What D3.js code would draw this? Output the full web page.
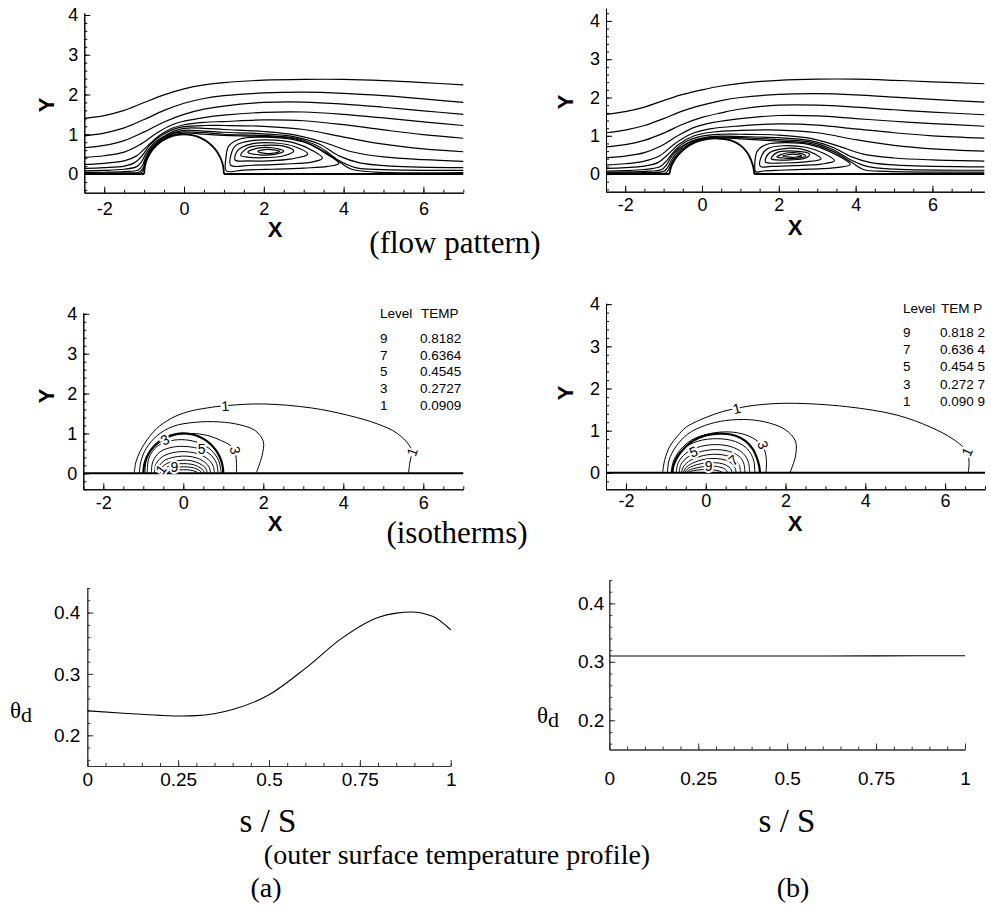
<!DOCTYPE html>
<html>
<head>
<meta charset="utf-8">
<script src="https://cdn.jsdelivr.net/npm/d3@7"></script>
<style>
body { margin: 0; background: #fff; }
</style>
</head>
<body>
<div id="fig"></div>
<script>
// ---------- data (data units) ----------

// body outlines
const bodyA = [[-1,0],[-0.98,0.2],[-0.92,0.39],[-0.8,0.6],[-0.6,0.8],[-0.4,0.917],[-0.2,0.98],[0,1],[0.2,0.98],[0.4,0.917],[0.6,0.8],[0.8,0.6],[0.92,0.39],[0.98,0.2],[1,0]];
const bodyB = [[-0.85,0],[-0.8,0.2],[-0.68,0.42],[-0.5,0.62],[-0.3,0.77],[0,0.89],[0.4,0.93],[0.75,0.88],[1.0,0.75],[1.18,0.56],[1.28,0.36],[1.34,0.16],[1.36,0]];

// streamlines, case (a)
const streamsA = [
  [[-2.5,1.40],[-2,1.47],[-1.5,1.60],[-1,1.80],[-0.5,1.99],[0,2.14],[0.5,2.24],[1,2.30],[2,2.36],[3,2.38],[4,2.38],[5,2.35],[6,2.30],[7,2.24]],
  [[-2.5,0.96],[-2,1.03],[-1.5,1.16],[-1,1.37],[-0.5,1.60],[0,1.78],[0.5,1.90],[1,1.97],[2,2.04],[3,2.06],[4,2.03],[5,1.97],[6,1.89],[7,1.80]],
  [[-2.5,0.66],[-2,0.72],[-1.5,0.84],[-1,1.06],[-0.5,1.31],[0,1.50],[0.5,1.63],[1,1.71],[2,1.80],[3,1.81],[4,1.76],[5,1.68],[6,1.59],[7,1.50]],
  [[-2.5,0.42],[-2,0.46],[-1.5,0.55],[-1.1,0.74],[-0.7,1.02],[-0.3,1.24],[0,1.33],[0.5,1.42],[1,1.48],[2,1.55],[3,1.56],[4,1.50],[5,1.41],[6,1.31],[7,1.22]],
  [[-2.5,0.24],[-2,0.27],[-1.5,0.33],[-1.2,0.45],[-0.9,0.72],[-0.6,0.98],[-0.3,1.15],[0,1.24],[0.5,1.3],[1,1.32],[2,1.36],[3,1.34],[4,1.24],[5,1.11],[6,0.99],[7,0.90]],
  [[-2.5,0.14],[-2,0.16],[-1.5,0.2],[-1.25,0.28],[-1.05,0.46],[-0.85,0.74],[-0.55,0.98],[-0.25,1.13],[0,1.19],[0.5,1.22],[1,1.22],[2,1.2],[3,1.12],[4,0.93],[5,0.75],[6,0.63],[7,0.56]],
  [[-2.5,0.08],[-2,0.09],[-1.5,0.12],[-1.2,0.18],[-1.07,0.3],[-0.95,0.52],[-0.75,0.78],[-0.5,0.95],[-0.25,1.08],[0,1.15],[0.5,1.15],[1,1.12],[2,1.07],[2.8,0.98],[3.5,0.8],[4.2,0.56],[5,0.43],[6,0.36],[7,0.32]],
  [[-2.5,0.04],[-2,0.045],[-1.5,0.06],[-1.15,0.1],[-1.04,0.22],[-0.96,0.42],[-0.82,0.66],[-0.55,0.9],[-0.25,1.04],[0,1.1],[0.5,1.08],[1,1.05],[2,1.01],[2.8,0.93],[3.4,0.75],[3.9,0.45],[4.4,0.28],[5.2,0.2],[7,0.16]],
  [[-2.5,0.02],[-1.5,0.028],[-1.12,0.05],[-1.02,0.16],[-0.97,0.33],[-0.86,0.57],[-0.6,0.85],[-0.3,1.01],[0,1.06],[0.5,1.04],[1,1.0],[2,0.97],[2.8,0.9],[3.4,0.68],[3.85,0.36],[4.3,0.16],[5,0.11],[7,0.09]],
  [[-2.5,0.01],[-1.5,0.013],[-1.08,0.025],[-1.01,0.12],[-0.98,0.26],[-0.9,0.46],[-0.7,0.74],[-0.4,0.94],[0,1.03],[0.5,1.0],[1,0.97],[2,0.945],[2.8,0.88],[3.4,0.63],[3.9,0.3],[4.2,0.12],[4.8,0.05],[7,0.035]]
];
// recirculation loops, case (a)
const loopsA = [
  [[1.06,0.08],[1.05,0.4],[1.12,0.7],[1.4,0.88],[2,0.93],[2.6,0.89],[3.1,0.77],[3.5,0.55],[3.88,0.27],[3.6,0.19],[3,0.15],[2.2,0.12],[1.5,0.1]],
  [[1.17,0.22],[1.18,0.5],[1.3,0.72],[1.7,0.84],[2.3,0.85],[2.8,0.77],[3.2,0.6],[3.47,0.4],[3.2,0.3],[2.5,0.25],[1.7,0.22]],
  [[1.28,0.35],[1.35,0.6],[1.7,0.76],[2.3,0.78],[2.8,0.68],[3.1,0.5],[2.7,0.38],[2.1,0.33],[1.6,0.33]],
  [[1.42,0.47],[1.6,0.66],[2.0,0.72],[2.5,0.7],[2.75,0.58],[2.5,0.46],[2.0,0.41],[1.65,0.42]],
  [[1.6,0.55],[1.85,0.65],[2.2,0.66],[2.5,0.58],[2.3,0.5],[1.9,0.48]],
  [[1.85,0.57],[2.1,0.62],[2.4,0.57],[2.2,0.52],[1.95,0.53]]
];

// streamlines, case (b)
const streamsB = [
  [[-2.5,1.56],[-2,1.63],[-1.5,1.75],[-1,1.92],[-0.5,2.08],[0,2.2],[0.5,2.3],[1,2.37],[2,2.45],[3,2.48],[4,2.48],[5,2.45],[6,2.41],[7.35,2.36]],
  [[-2.5,1.08],[-2,1.15],[-1.5,1.27],[-1,1.45],[-0.5,1.65],[0,1.8],[0.5,1.92],[1,2.0],[2,2.08],[3,2.1],[4,2.07],[5,2.01],[6,1.95],[7.35,1.88]],
  [[-2.5,0.71],[-2,0.77],[-1.5,0.88],[-1,1.07],[-0.5,1.3],[0,1.48],[0.5,1.6],[1,1.7],[2,1.8],[3,1.8],[4,1.75],[5,1.68],[6,1.62],[7.35,1.55]],
  [[-2.5,0.43],[-2,0.47],[-1.5,0.56],[-1.1,0.72],[-0.6,1.02],[-0.2,1.22],[0.3,1.35],[1,1.45],[2,1.53],[3,1.52],[4,1.45],[5,1.38],[6,1.32],[7.35,1.25]],
  [[-2.5,0.24],[-2,0.27],[-1.5,0.34],[-1.1,0.48],[-0.7,0.8],[-0.3,1.04],[0.2,1.18],[1,1.26],[2,1.31],[3,1.28],[4,1.18],[5,1.08],[6,1.0],[7.35,0.94]],
  [[-2.5,0.15],[-2,0.17],[-1.5,0.21],[-1.15,0.3],[-0.9,0.5],[-0.6,0.78],[-0.2,1.0],[0.3,1.1],[1,1.14],[2,1.15],[3,1.08],[4,0.9],[5,0.75],[6,0.66],[7.35,0.6]],
  [[-2.5,0.08],[-2,0.09],[-1.5,0.12],[-1.1,0.19],[-0.92,0.35],[-0.72,0.6],[-0.45,0.83],[0,0.99],[0.5,1.04],[1,1.04],[2,1.02],[2.8,0.94],[3.5,0.75],[4.2,0.52],[5,0.42],[6,0.37],[7.35,0.34]],
  [[-2.5,0.05],[-1.5,0.07],[-1.05,0.12],[-0.92,0.25],[-0.8,0.45],[-0.6,0.67],[-0.3,0.85],[0.1,0.96],[0.5,0.99],[1,0.98],[2,0.95],[2.8,0.88],[3.4,0.7],[3.9,0.45],[4.4,0.3],[5.2,0.23],[7.35,0.19]],
  [[-2.5,0.03],[-1.5,0.04],[-1.0,0.07],[-0.89,0.18],[-0.8,0.36],[-0.62,0.6],[-0.35,0.81],[0.1,0.94],[0.5,0.965],[1,0.95],[2,0.9],[2.8,0.84],[3.4,0.65],[3.85,0.38],[4.3,0.2],[5,0.13],[7.35,0.1]],
  [[-2.5,0.01],[-1.5,0.015],[-0.95,0.03],[-0.87,0.12],[-0.79,0.3],[-0.64,0.52],[-0.4,0.74],[0,0.91],[0.4,0.95],[1,0.92],[2,0.86],[2.8,0.8],[3.4,0.6],[3.9,0.3],[4.2,0.12],[4.8,0.07],[7.35,0.05]]
];
const loopsB = [
  [[1.4,0.06],[1.38,0.35],[1.45,0.62],[1.7,0.78],[2.2,0.82],[2.8,0.77],[3.3,0.6],[3.86,0.25],[3.5,0.17],[2.8,0.13],[2,0.1],[1.6,0.08]],
  [[1.52,0.2],[1.54,0.45],[1.7,0.66],[2.1,0.74],[2.7,0.7],[3.15,0.55],[3.45,0.35],[3.1,0.26],[2.4,0.22],[1.8,0.2]],
  [[1.65,0.32],[1.75,0.55],[2.1,0.66],[2.6,0.65],[2.95,0.52],[3.1,0.4],[2.7,0.32],[2.1,0.29]],
  [[1.8,0.4],[1.95,0.56],[2.4,0.6],[2.8,0.52],[2.7,0.42],[2.3,0.37],[1.95,0.37]],
  [[1.95,0.45],[2.2,0.55],[2.55,0.54],[2.7,0.47],[2.45,0.41],[2.1,0.42]],
  [[2.1,0.47],[2.35,0.52],[2.6,0.48],[2.4,0.44],[2.2,0.45]]
];

// isotherms, case (a)
const isoA = [
  [[-1.23,0],[-1.18,0.3],[-1.08,0.55],[-0.9,0.85],[-0.67,1.12],[-0.3,1.38],[0.1,1.54],[0.6,1.64],[1.1,1.7],[2.0,1.74],[3.2,1.64],[4.1,1.46],[4.85,1.24],[5.35,1.0],[5.7,0.6],[5.66,0.25],[5.63,0]],
  [[-1.1,0],[-1.06,0.3],[-0.93,0.62],[-0.65,0.95],[-0.25,1.18],[0.3,1.28],[0.9,1.29],[1.4,1.22],[1.8,1.07],[2.0,0.8],[1.97,0.45],[1.82,0]],
  [[-0.96,0],[-0.93,0.3],[-0.8,0.58],[-0.55,0.8],[-0.2,0.96],[0.2,1.0],[0.6,0.95],[0.95,0.82],[1.2,0.68],[1.3,0.5],[1.33,0.25],[1.33,0]],
  [[-0.9,0],[-0.86,0.38],[-0.65,0.68],[-0.3,0.82],[0.05,0.84],[0.4,0.76],[0.7,0.58],[0.88,0.33],[0.95,0]],
  [[-0.8,0],[-0.76,0.3],[-0.58,0.54],[-0.25,0.66],[0.1,0.67],[0.45,0.6],[0.7,0.45],[0.83,0.25],[0.87,0]],
  [[-0.72,0],[-0.68,0.24],[-0.5,0.43],[-0.2,0.53],[0.1,0.54],[0.4,0.48],[0.62,0.35],[0.74,0.2],[0.78,0]],
  [[-0.65,0],[-0.6,0.19],[-0.44,0.34],[-0.15,0.42],[0.1,0.43],[0.35,0.38],[0.55,0.27],[0.65,0.15],[0.68,0]],
  [[-0.58,0],[-0.53,0.15],[-0.38,0.26],[-0.12,0.32],[0.1,0.33],[0.3,0.29],[0.48,0.2],[0.57,0.11],[0.6,0]],
  [[-0.52,0],[-0.47,0.11],[-0.33,0.19],[-0.1,0.24],[0.1,0.24],[0.28,0.21],[0.42,0.14],[0.5,0.07],[0.52,0]],
  [[-0.47,0],[-0.42,0.07],[-0.28,0.13],[-0.08,0.16],[0.1,0.16],[0.25,0.14],[0.37,0.09],[0.44,0.04],[0.45,0]],
  [[-0.42,0],[-0.36,0.04],[-0.22,0.08],[0,0.09],[0.18,0.08],[0.32,0.04],[0.38,0]]
];
const isoLabelsA = [
  {t:"1", x:1.05, y:1.69, r:-4}, {t:"1", x:5.72, y:0.54, r:-70},
  {t:"3", x:-0.46, y:0.84, r:-28}, {t:"3", x:1.3, y:0.58, r:78},
  {t:"5", x:0.46, y:0.62, r:0}, {t:"9", x:-0.22, y:0.15, r:0}, {t:"1", x:-0.56, y:0.1, r:-55}
];

// isotherms, case (b)
const isoB = [
  [[-1.08,0],[-1.03,0.3],[-0.9,0.63],[-0.7,0.88],[-0.48,1.09],[0.28,1.41],[0.78,1.53],[1.3,1.61],[2.11,1.65],[3.53,1.57],[4.79,1.37],[5.62,1.09],[6.2,0.8],[6.55,0.5],[6.6,0.25],[6.58,0]],
  [[-0.96,0],[-0.92,0.3],[-0.75,0.62],[-0.45,0.92],[0,1.13],[0.5,1.24],[1.1,1.26],[1.6,1.18],[2.0,1.02],[2.25,0.75],[2.25,0.4],[2.11,0]],
  [[-0.86,0],[-0.82,0.25],[-0.66,0.52],[-0.35,0.78],[0.1,0.93],[0.6,0.97],[1.0,0.9],[1.3,0.75],[1.47,0.55],[1.52,0.3],[1.51,0]],
  [[-0.82,0],[-0.77,0.3],[-0.58,0.56],[-0.2,0.75],[0.3,0.81],[0.75,0.74],[1.05,0.56],[1.2,0.3],[1.23,0]],
  [[-0.74,0],[-0.69,0.24],[-0.5,0.46],[-0.15,0.62],[0.3,0.67],[0.7,0.6],[0.95,0.45],[1.07,0.25],[1.1,0]],
  [[-0.67,0],[-0.62,0.2],[-0.44,0.38],[-0.1,0.51],[0.3,0.55],[0.65,0.49],[0.87,0.36],[0.96,0.2],[0.98,0]],
  [[-0.61,0],[-0.55,0.16],[-0.38,0.3],[-0.06,0.41],[0.28,0.44],[0.58,0.39],[0.77,0.28],[0.85,0.15],[0.87,0]],
  [[-0.56,0],[-0.5,0.12],[-0.33,0.23],[-0.04,0.32],[0.26,0.34],[0.5,0.3],[0.67,0.21],[0.74,0.11],[0.76,0]],
  [[-0.52,0],[-0.46,0.09],[-0.3,0.17],[-0.03,0.23],[0.24,0.24],[0.44,0.21],[0.58,0.14],[0.64,0.07],[0.65,0]],
  [[-0.48,0],[-0.42,0.06],[-0.27,0.11],[-0.02,0.15],[0.2,0.16],[0.38,0.13],[0.5,0.08],[0.55,0]],
  [[-0.45,0],[-0.38,0.035],[-0.22,0.065],[0,0.08],[0.2,0.07],[0.35,0.04],[0.43,0]]
];
const isoLabelsB = [
  {t:"1", x:0.78, y:1.53, r:-14}, {t:"1", x:6.55, y:0.5, r:-65},
  {t:"3", x:1.44, y:0.66, r:70}, {t:"5", x:-0.31, y:0.5, r:-20},
  {t:"7", x:0.69, y:0.3, r:-40}, {t:"9", x:0.07, y:0.17, r:0}
];

// legend of the isotherm plots
const legendLevels = ["9", "7", "5", "3", "1"];
const legendTempA = ["0.8182", "0.6364", "0.4545", "0.2727", "0.0909"];
const legendTempB = ["0.818 2", "0.636 4", "0.454 5", "0.272 7", "0.090 9"];

// outer surface temperature
const sA = [0, 0.1, 0.2, 0.26, 0.3, 0.4, 0.5, 0.6, 0.7, 0.8, 0.85, 0.89, 0.95, 1];
const thetaA = [0.240, 0.236, 0.2325, 0.2315, 0.232, 0.242, 0.266, 0.309, 0.358, 0.392, 0.399, 0.401, 0.394, 0.372];
const sB = [0, 0.25, 0.5, 0.75, 1];
const thetaB = [0.31, 0.31, 0.31, 0.3102, 0.3105];

const sTicks = [0, 0.25, 0.5, 0.75, 1];
const sTickLabels = ["0", "0.25", "0.5", "0.75", "1"];
const thetaTicks = [0.2, 0.3, 0.4];

// ---------- drawing ----------
const W = 991, H = 911;
const sans = "'Liberation Sans', Arial, sans-serif";
const serif = "'Liberation Serif', 'Times New Roman', serif";

const svg = d3.select("#fig").append("svg")
	.attr("width", W)
	.attr("height", H)
	.attr("viewBox", `0 0 ${W} ${H}`);

function minorTicks(domain, step) {
	const lo = Math.ceil(Math.min(...domain) / step - 1e-6);
	const hi = Math.floor(Math.max(...domain) / step + 1e-6);
	return d3.range(lo, hi + 1).map((i) => +(i * step).toFixed(4));
}

function styleAxis(g, size, color) {
	g.selectAll("path, line").attr("stroke", color).attr("stroke-width", 1);
	g.selectAll("text")
		.attr("fill", "#000")
		.style("font-family", sans)
		.style("font-size", size + "px");
}

function drawAxes(g, x, y, o) {
	const yBase = y.range()[0];
	const xLeft = x.range()[0];
	const fmt = o.xFmt || ((d) => String(d));
	// x axis
	g.append("g")
		.attr("transform", `translate(0,${yBase})`)
		.call(d3.axisBottom(x).tickValues(minorTicks(x.domain(), o.xMinor)).tickSize(-3).tickSizeOuter(0).tickFormat(""))
		.call(styleAxis, o.font, o.color);
	g.append("g")
		.attr("transform", `translate(0,${yBase})`)
		.call(d3.axisBottom(x).tickValues(o.xMajor).tickSize(-6).tickSizeOuter(0).tickPadding(o.xPad).tickFormat(fmt))
		.call(styleAxis, o.font, o.color);
	// y axis
	g.append("g")
		.attr("transform", `translate(${xLeft},0)`)
		.call(d3.axisLeft(y).tickValues(minorTicks(y.domain(), o.yMinor)).tickSize(-3).tickSizeOuter(0).tickFormat(""))
		.call(styleAxis, o.font, o.color);
	g.append("g")
		.attr("transform", `translate(${xLeft},0)`)
		.call(d3.axisLeft(y).tickValues(o.yMajor).tickSize(-6).tickSizeOuter(0).tickPadding(o.yPad).tickFormat((d) => String(d)))
		.call(styleAxis, o.font, o.color);
}

const smooth = d3.curveCatmullRom.alpha(0.5);
const smoothClosed = d3.curveCatmullRomClosed.alpha(0.5);

function fieldPanel(o) {
	const x = d3.scaleLinear().domain(o.xd).range(o.xr);
	const y = d3.scaleLinear().domain(o.yd).range(o.yr);
	const g = svg.append("g");
	const line = d3.line().x((d) => x(d[0])).y((d) => y(d[1])).curve(smooth);
	const loop = d3.line().x((d) => x(d[0])).y((d) => y(d[1])).curve(smoothClosed);

	drawAxes(g, x, y, {
		xMajor: [-2, 0, 2, 4, 6], xMinor: 0.5,
		yMajor: [0, 1, 2, 3, 4], yMinor: 0.2,
		xPad: o.xPad, yPad: 6, font: 18, color: "#000"
	});

	// open lines (streamlines or isotherms)
	g.selectAll(".ln").data(o.lines).enter().append("path")
		.attr("d", line).attr("fill", "none")
		.attr("stroke", "#000").attr("stroke-width", o.lw);
	// closed loops
	g.selectAll(".lp").data(o.loops || []).enter().append("path")
		.attr("d", loop).attr("fill", "none")
		.attr("stroke", "#000").attr("stroke-width", o.lw);

	// wall and body
	const xEnd = o.xd[1];
	if (o.fullWall) {
		g.append("line")
			.attr("x1", x(o.xd[0])).attr("x2", x(xEnd))
			.attr("y1", y(0)).attr("y2", y(0))
			.attr("stroke", "#000").attr("stroke-width", 2);
	} else {
		const b = o.body;
		[[o.xd[0], b[0][0]], [b[b.length - 1][0], xEnd]].forEach((seg) => {
			g.append("line")
				.attr("x1", x(seg[0])).attr("x2", x(seg[1]))
				.attr("y1", y(0)).attr("y2", y(0))
				.attr("stroke", "#000").attr("stroke-width", 2);
		});
	}
	g.append("path").datum(o.body)
		.attr("d", line).attr("fill", "none")
		.attr("stroke", "#000").attr("stroke-width", o.bodyW);

	// contour labels
	(o.labels || []).forEach((l) => {
		g.append("text")
			.attr("transform", `translate(${x(l.x)},${y(l.y)}) rotate(${l.r})`)
			.attr("text-anchor", "middle").attr("dy", "0.36em")
			.attr("stroke", "#fff").attr("stroke-width", 4).attr("paint-order", "stroke")
			.style("font-family", sans).style("font-size", "14px")
			.text(l.t);
	});

	// axis titles
	g.append("text")
		.attr("x", o.xLab[0]).attr("y", o.xLab[1])
		.attr("text-anchor", "middle").attr("dy", "0.36em")
		.style("font-family", sans).style("font-size", "22px").style("font-weight", "bold")
		.text("X");
	g.append("text")
		.attr("transform", `translate(${o.yLab[0]},${o.yLab[1]}) rotate(-90)`)
		.attr("text-anchor", "middle").attr("dy", "0.36em")
		.style("font-family", sans).style("font-size", "22px").style("font-weight", "bold")
		.text("Y");

	// legend
	if (o.legend) {
		const L = o.legend;
		const t = (tx, ty, s) => g.append("text").attr("x", tx).attr("y", ty).attr("dy", "0.36em")
			.style("font-family", sans).style("font-size", "13.5px").text(s);
		t(L.x1, L.head, "Level");
		t(L.x2, L.head, L.title);
		legendLevels.forEach((lv, i) => {
			t(L.x1, L.rows[i], lv);
			t(L.x2 - 1, L.rows[i], L.vals[i]);
		});
	}
}

fieldPanel({
	xd: [-2.5, 7], xr: [84.3, 463.3], yd: [-0.47, 4.05], yr: [192.7, 13],
	lines: streamsA, loops: loopsA, body: bodyA, lw: 1.2, bodyW: 1.8,
	xPad: 10, xLab: [275, 229], yLab: [46, 105]
});
fieldPanel({
	xd: [-2.5, 7.35], xr: [606, 984.3], yd: [-0.46, 4.33], yr: [191.7, 8.3],
	lines: streamsB, loops: loopsB, body: bodyB, lw: 1.2, bodyW: 1.8,
	xPad: 7, xLab: [795, 227], yLab: [565, 102]
});
fieldPanel({
	xd: [-2.5, 7], xr: [83.3, 463.3], yd: [-0.4, 4.02], yr: [489.3, 313],
	lines: isoA, body: bodyA, lw: 1, bodyW: 2.2, fullWall: true, labels: isoLabelsA,
	xPad: 6.5, xLab: [275, 523], yLab: [46, 396],
	legend: { x1: 380, x2: 421, head: 313.5, title: "TEMP", rows: [338.5, 355, 371.5, 388.5, 405.5], vals: legendTempA }
});
fieldPanel({
	xd: [-2.5, 7], xr: [606, 985], yd: [-0.39, 4.02], yr: [489.3, 303.3],
	lines: isoB, body: bodyB, lw: 1, bodyW: 2.2, fullWall: true, labels: isoLabelsB,
	xPad: 5, xLab: [795, 523], yLab: [565, 393],
	legend: { x1: 903, x2: 941, head: 308.5, title: "TEM P", rows: [332, 349, 366.5, 384, 401.5], vals: legendTempB }
});

function profilePanel(o) {
	const x = d3.scaleLinear().domain([0, 1]).range(o.xr);
	const y = d3.scaleLinear().domain([0.15, 0.44]).range(o.yr);
	const g = svg.append("g");
	drawAxes(g, x, y, {
		xMajor: sTicks, xMinor: 0.05, xFmt: (d, i) => sTickLabels[i],
		yMajor: thetaTicks, yMinor: 0.02,
		xPad: o.xPad, yPad: o.yPad, font: 19, color: "#333"
	});
	const pts = o.s.map((s, i) => [s, o.theta[i]]);
	g.append("path").datum(pts)
		.attr("d", d3.line().x((d) => x(d[0])).y((d) => y(d[1])).curve(d3.curveMonotoneX))
		.attr("fill", "none").attr("stroke", "#000").attr("stroke-width", 1.1);
	// theta_d label
	const th = g.append("text").attr("x", o.thLab[0]).attr("y", o.thLab[1])
		.style("font-family", serif).style("font-size", "23px");
	th.append("tspan").text("θ");
	th.append("tspan").attr("dy", 4).style("font-size", "22px").text("d");
	// s / S label
	g.append("text").attr("x", o.sLab[0]).attr("y", o.sLab[1])
		.attr("text-anchor", "middle")
		.style("font-family", serif).style("font-size", "33px")
		.text("s / S");
}

profilePanel({ xr: [87.3, 450.7], yr: [766, 588], xPad: 7, yPad: 7, s: sA, theta: thetaA, thLab: [10, 718], sLab: [268, 832] });
profilePanel({ xr: [609.3, 965], yr: [749.5, 580], xPad: 22, yPad: 5, s: sB, theta: thetaB, thLab: [537, 723], sLab: [787, 832] });

// captions
const captions = [
	{ t: "(flow pattern)", x: 455, y: 253, size: 31 },
	{ t: "(isotherms)", x: 457, y: 543, size: 31 },
	{ t: "(outer surface temperature profile)", x: 457, y: 864, size: 28 },
	{ t: "(a)", x: 266, y: 897, size: 28 },
	{ t: "(b)", x: 793, y: 897, size: 28 }
];
svg.selectAll(".cap").data(captions).enter().append("text")
	.attr("x", (d) => d.x).attr("y", (d) => d.y)
	.attr("text-anchor", "middle")
	.style("font-family", serif).style("font-size", (d) => d.size + "px")
	.text((d) => d.t);
</script>
</body>
</html>
